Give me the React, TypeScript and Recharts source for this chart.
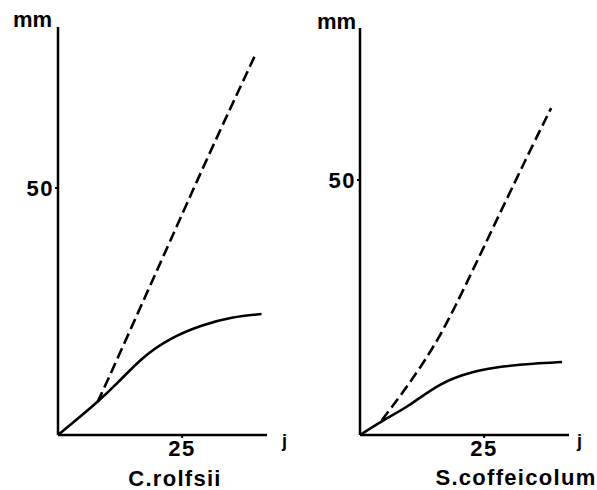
import { LineChart, Line, XAxis, YAxis } from 'recharts';

// C. rolfsii (left panel)
const rolfsiiSolidDays = [0, 4, 8, 12, 17, 22.5, 29, 35, 41];
const rolfsiiSolidMm = [0, 3.3, 6.7, 10.5, 15.8, 19.6, 22.3, 23.9, 24.5];
const rolfsiiDashDays = [8, 12, 18, 22, 30, 40];
const rolfsiiDashMm = [6.7, 15.5, 29, 37.9, 56, 77.5];

// S. coffeicolum (right panel)
const coffeSolidDays = [0, 4.6, 10, 16, 22.8, 28.8, 35, 40.7];
const coffeSolidMm = [0, 2.9, 5.7, 10.2, 12.5, 13.5, 14, 14.3];
const coffeDashDays = [4.4, 8, 12, 17, 25, 34, 38.5];
const coffeDashMm = [2.9, 7.5, 13, 20.6, 37, 55.3, 64.1];

const xTicks = [25];
const yTicks = [50];

const zip = (days: number[], mm: number[]) => days.map((d, i) => ({ day: d, mm: mm[i] }));

const font = '"Liberation Sans", Arial, sans-serif';
const tickStyle = { fill: '#000', fontSize: 22, fontWeight: 700, fontFamily: font, letterSpacing: 1.5 };

type PanelProps = {
  left: number;
  width: number;
  top: number;
  yMax: number;
  xMax: number;
  solid: { day: number; mm: number }[];
  dashed: { day: number; mm: number }[];
  yAxisWidth: number;
  rightMargin: number;
};

const Panel = ({ left, width, top, yMax, xMax, solid, dashed, yAxisWidth, rightMargin }: PanelProps) => (
  <div style={{ position: 'absolute', left, top: 0 }}>
    <LineChart width={width} height={490} margin={{ top, right: rightMargin, bottom: 0, left: 0 }}>
      <XAxis
        dataKey="day"
        type="number"
        domain={[0, xMax]}
        ticks={xTicks}
        allowDataOverflow
        height={55}
        tickSize={3}
        tickMargin={2}
        tick={tickStyle}
        axisLine={{ stroke: '#000', strokeWidth: 2.5 }}
        tickLine={{ stroke: '#000', strokeWidth: 2 }}
      />
      <YAxis
        type="number"
        domain={[0, yMax]}
        ticks={yTicks}
        allowDataOverflow
        width={yAxisWidth}
        tickSize={3}
        tickMargin={1}
        tick={tickStyle}
        axisLine={{ stroke: '#000', strokeWidth: 2.5 }}
        tickLine={{ stroke: '#000', strokeWidth: 2 }}
      />
      <Line
        data={solid}
        dataKey="mm"
        type="basis"
        stroke="#000"
        strokeWidth={2.6}
        dot={false}
        isAnimationActive={false}
      />
      <Line
        data={dashed}
        dataKey="mm"
        type="basis"
        stroke="#000"
        strokeWidth={2.6}
        strokeDasharray="11 5"
        dot={false}
        isAnimationActive={false}
      />
    </LineChart>
  </div>
);

const Txt = ({ x, y, size, children, w, center }: any) => (
  <div
    style={{
      position: 'absolute',
      left: center ? x - w / 2 : x,
      top: y,
      width: w,
      textAlign: center ? 'center' : 'left',
      fontFamily: font,
      fontWeight: 700,
      fontSize: size,
      lineHeight: `${size}px`,
      letterSpacing: center ? 1.3 : 0,
      whiteSpace: 'nowrap',
    }}
  >
    {children}
  </div>
);

export default function App() {
  return (
    <div style={{ position: 'absolute', left: 0, top: 0, width: 597, height: 490, overflow: 'hidden', background: '#fff' }}>
      <Panel
        left={0}
        width={300}
        top={27}
        yMax={82.6}
        xMax={42.1}
        solid={zip(rolfsiiSolidDays, rolfsiiSolidMm)}
        dashed={zip(rolfsiiDashDays, rolfsiiDashMm)}
        yAxisWidth={58}
        rightMargin={33}
      />
      <Panel
        left={300}
        width={297}
        top={28}
        yMax={79.8}
        xMax={42.1}
        solid={zip(coffeSolidDays, coffeSolidMm)}
        dashed={zip(coffeDashDays, coffeDashMm)}
        yAxisWidth={60}
        rightMargin={28}
      />
      <Txt x={13} y={9} size={22}>mm</Txt>
      <Txt x={317} y={11} size={22}>mm</Txt>
      <Txt x={282} y={432} size={18}>j</Txt>
      <Txt x={577} y={432} size={18}>j</Txt>
      <Txt x={175} y={468} size={22} w={200} center>C.rolfsii</Txt>
      <Txt x={516} y={467} size={22} w={200} center>S.coffeicolum</Txt>
    </div>
  );
}
